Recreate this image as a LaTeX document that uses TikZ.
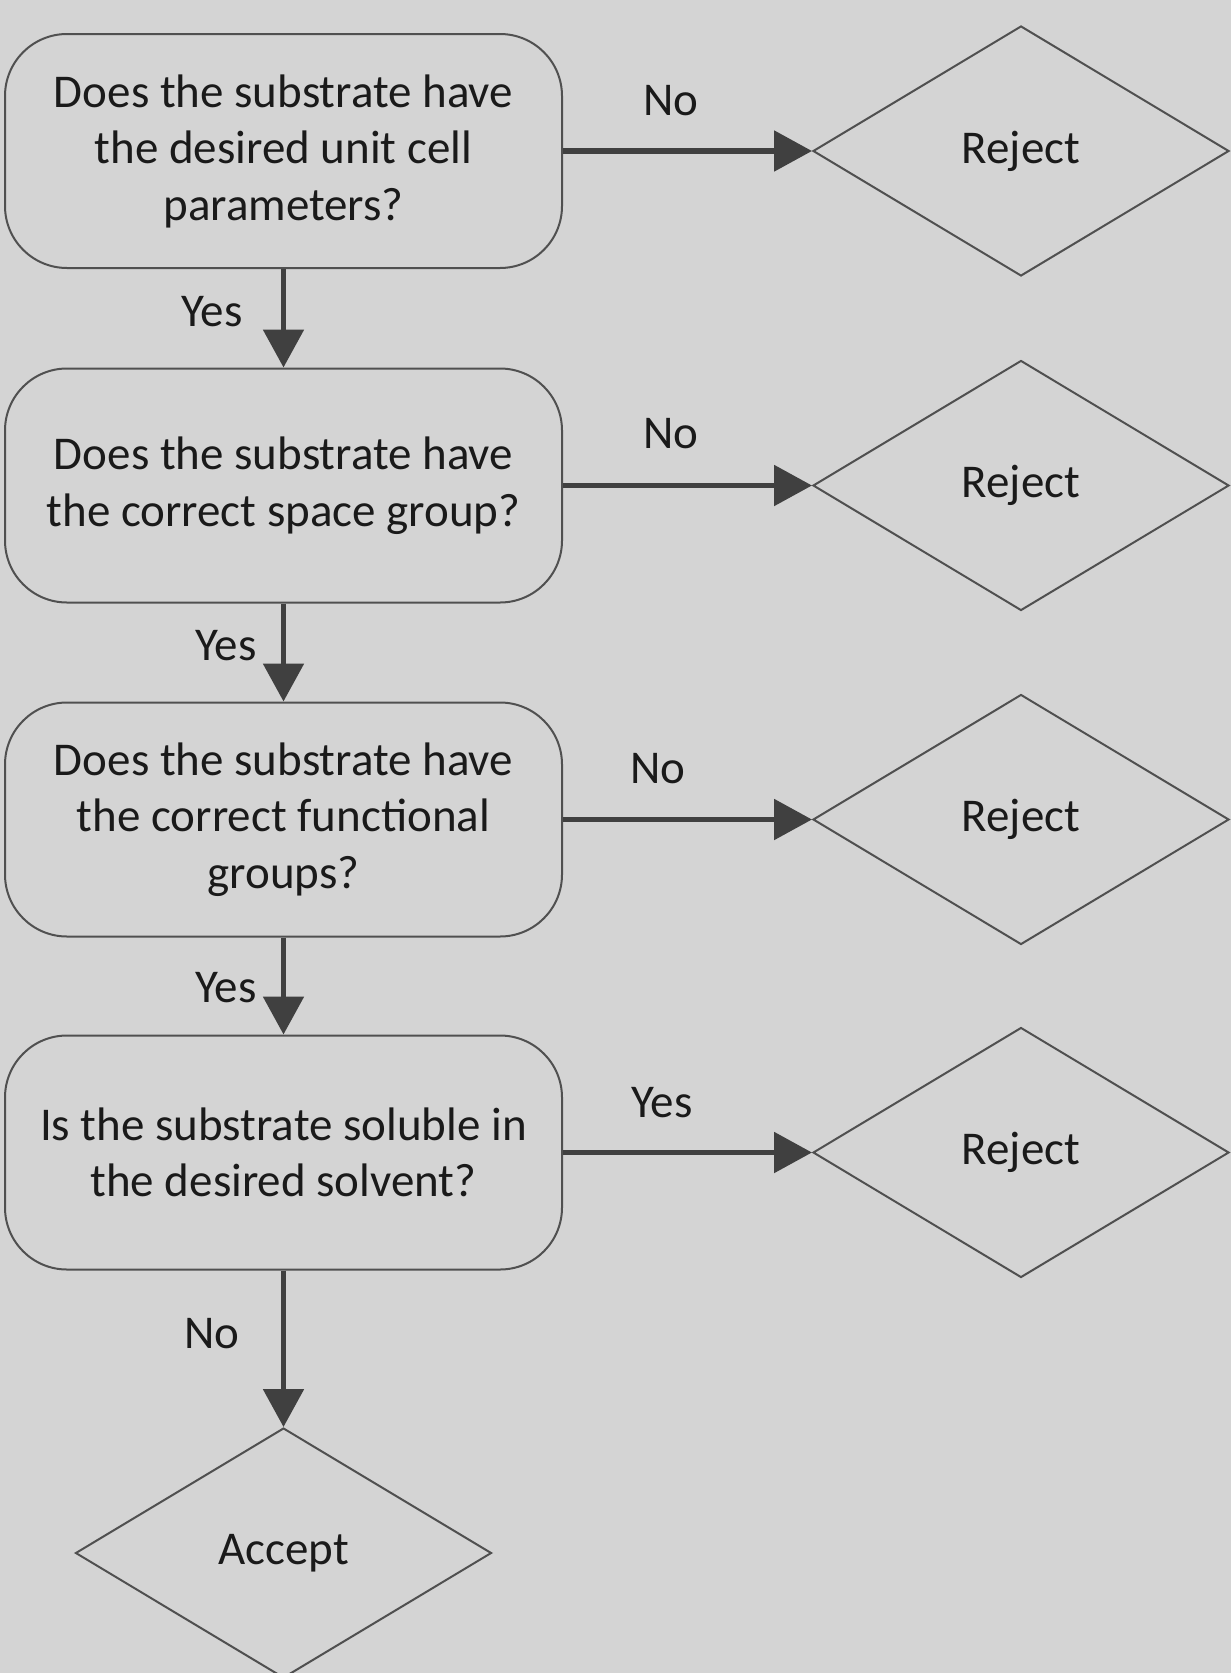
\documentclass[tikz,border=0pt]{standalone}
\usepackage{fontspec}
\setmainfont{Carlito}
\usetikzlibrary{shapes.geometric,arrows.meta}
\definecolor{bgc}{HTML}{D4D4D4}
\definecolor{linec}{HTML}{505050}
\definecolor{arrc}{HTML}{404040}
\definecolor{txtc}{HTML}{1A1A1A}
\tikzset{
  qbox/.style={draw=linec, line width=2pt, rectangle, rounded corners=62pt,
    minimum width=557pt, minimum height=234pt, align=center, inner sep=0pt,
    text=txtc, font=\fontsize{47}{56.5}\selectfont},
  endbox/.style={draw=linec, line width=2pt, diamond, minimum width=416pt,
    minimum height=250pt, inner sep=0pt, text=txtc, font=\fontsize{47}{56.5}\selectfont},
  flow/.style={draw=arrc, line width=5.5pt, -{Triangle[length=38pt,width=40pt]}},
  lbl/.style={text=txtc, font=\fontsize{47}{56.5}\selectfont, inner sep=0pt}
}
\begin{document}
\begin{tikzpicture}[x=1pt,y=-1pt]
\fill[bgc] (0,0) rectangle (1231,1673);
\useasboundingbox (0,0) rectangle (1231,1673);
\begin{scope}
\clip (0,0) rectangle (1231,1673);
\node[qbox] (q1) at (283.5,151) {Does the substrate have\\the desired unit cell\\parameters?};
\node[qbox] (q2) at (283.5,485.5) {Does the substrate have\\the correct space group?};
\node[qbox] (q3) at (283.5,819.5) {Does the substrate have\\the correct functional\\groups?};
\node[qbox] (q4) at (283.5,1152.5) {Is the substrate soluble in\\the desired solvent?};
\node[endbox] (r1) at (1021,151) {Reject};
\node[endbox] (r2) at (1021,485.5) {Reject};
\node[endbox] (r3) at (1021,819.5) {Reject};
\node[endbox] (r4) at (1021,1152.5) {Reject};
\node[endbox] (acc) at (283.5,1553) {Accept};
\draw[flow] (q1.east) -- (r1.west);
\draw[flow] (q2.east) -- (r2.west);
\draw[flow] (q3.east) -- (r3.west);
\draw[flow] (q4.east) -- (r4.west);
\draw[flow] (q1.south) -- (q2.north);
\draw[flow] (q2.south) -- (q3.north);
\draw[flow] (q3.south) -- (q4.north);
\draw[flow] (q4.south) -- (acc.north);
\node[lbl] (l1) at (671,101) {No};
\node[lbl] (l2) at (671,434) {No};
\node[lbl] (l3) at (658,769) {No};
\node[lbl] (l4) at (662,1103) {Yes};
\node[lbl] (l5) at (212,312) {Yes};
\node[lbl] (l6) at (226,646) {Yes};
\node[lbl] (l7) at (226,988) {Yes};
\node[lbl] (l8) at (212,1334) {No};
\end{scope}
\end{tikzpicture}
\end{document}
